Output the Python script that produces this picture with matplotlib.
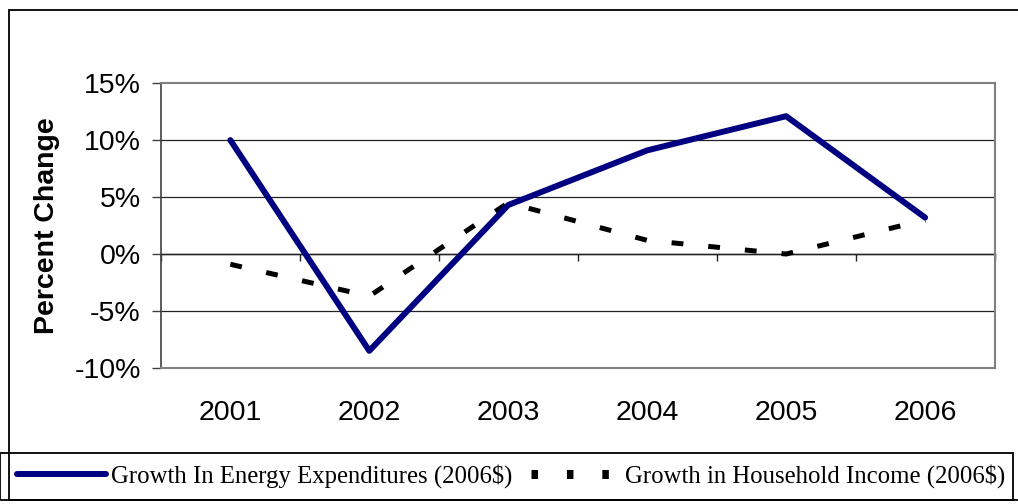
import matplotlib
matplotlib.use("Agg")
import matplotlib.pyplot as plt
from matplotlib.lines import Line2D
from matplotlib.patches import Rectangle
from matplotlib.ticker import FuncFormatter

years = ["2001", "2002", "2003", "2004", "2005", "2006"]
energy_growth = [10.0, -8.5, 4.3, 9.1, 12.1, 3.2]
income_growth = [-0.9, -3.7, 4.5, 1.2, 0.0, 3.0]
y_ticks = [-10, -5, 0, 5, 10, 15]
energy_label = "Growth In Energy Expenditures (2006$)"
income_label = "Growth in Household Income (2006$)"

plt.rcParams["font.family"] = ["Liberation Sans", "DejaVu Sans"]
plt.rcParams["lines.scale_dashes"] = False

fig = plt.figure(figsize=(10.18, 5.04), dpi=100)
ax = fig.add_axes([0.158, 0.270, 0.819, 0.565])

x = range(len(years))
ax.plot(x, energy_growth, color="#000080", lw=4.3, solid_capstyle="round",
        solid_joinstyle="round", zorder=4)
ax.plot(x, income_growth, color="black", lw=3.6, dashes=(8.5, 18),
        dash_capstyle="butt", zorder=3)

ax.set_xlim(-0.5, len(years) - 0.5)
ax.set_ylim(-10, 15)
ax.set_yticks(y_ticks)
ax.yaxis.set_major_formatter(FuncFormatter(lambda v, p: f"{v:.0f}%"))
ax.tick_params(axis="y", direction="out", length=6.5, width=1, pad=8,
               labelsize=20.5, color="#404040")
ax.set_xticks(list(x))
ax.set_xticklabels(years)
ax.tick_params(axis="x", length=0, pad=23, labelsize=20.5)
for v in y_ticks[1:-1]:
    ax.axhline(v, color="#222222", lw=0.9, zorder=1)

for side in ["top", "right", "bottom"]:
    ax.spines[side].set_color("#808080")
    ax.spines[side].set_linewidth(1.5)
ax.spines["left"].set_color("#404040")
ax.spines["left"].set_linewidth(1.2)

# category boundary ticks on the zero line
zero_frac = (0 - y_ticks[0]) / (y_ticks[-1] - y_ticks[0])
sec = ax.secondary_xaxis(zero_frac)
sec.set_xticks([i - 0.5 for i in range(len(years) + 1)])
sec.set_xticklabels([])
sec.tick_params(direction="out", length=5, width=1, color="#222222")
sec.spines["bottom"].set_color("black")
sec.spines["bottom"].set_linewidth(1)

ax.set_ylabel("Percent Change", fontsize=20.5, fontweight="bold", labelpad=10)

# outer chart border and legend box
fig.add_artist(Rectangle((9 / 1018, 4 / 504), 1.2, 1 - 14 / 504, fill=False,
                         edgecolor="black", lw=1.3, transform=fig.transFigure))
fig.add_artist(Rectangle((0, 4 / 504), 1013 / 1018, 47 / 504, fill=False,
                         edgecolor="black", lw=1.3, transform=fig.transFigure))

handles = [Line2D([], [], color="#000080", lw=4.3, solid_capstyle="round"),
           Line2D([], [], color="black", lw=6.5, dashes=(4.7, 20.8))]
leg = fig.legend(handles, [energy_label, income_label], loc="center",
                 bbox_to_anchor=(17 / 1018, 4 / 504, (1005 - 17) / 1018, 47 / 504),
                 ncol=2, mode="expand", frameon=False,
                 handlelength=3.6, handletextpad=0.2, columnspacing=0.5,
                 borderaxespad=0, borderpad=0,
                 prop={"family": "Liberation Serif", "size": 17.8})

fig.savefig("out.png", dpi=100)
